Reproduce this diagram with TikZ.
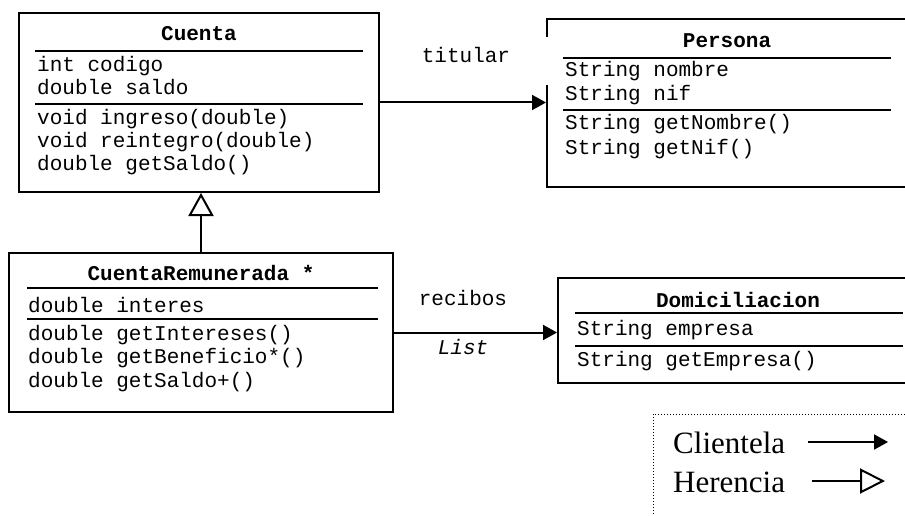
\documentclass[tikz,border=0pt]{standalone}
\usepackage{fontspec}
\setmainfont{Liberation Serif}
\setmonofont{Liberation Mono}
\usetikzlibrary{arrows.meta}
\begin{document}
\begin{tikzpicture}[x=1pt,y=-1pt,
  classbox/.style={draw,line width=2pt,rectangle,inner sep=0pt},
  sepline/.style={line width=2pt},
  mono/.style={font=\fontsize{21}{23}\selectfont\ttfamily,inner sep=0pt},
  monotxt/.style={mono,anchor=base west},
  title/.style={font=\fontsize{21}{23}\selectfont\ttfamily\bfseries,inner sep=0pt,anchor=base},
  rlabel/.style={mono,anchor=base},
  legtxt/.style={font=\fontsize{31}{33}\selectfont\rmfamily,inner sep=0pt,anchor=base west},
  client/.style={line width=2pt,-{Triangle[length=14pt,width=15pt]}},
  herit/.style={line width=2pt,-{Triangle[open,length=23pt,width=25pt,line width=2pt]}}
]
\useasboundingbox (0,0) rectangle (905,516);
% Cuenta
\node[classbox,minimum width=360pt,minimum height=179pt] (cuenta) at (199,102.5) {};
\node[title] (cuentaT) at (199,41) {Cuenta};
\draw[sepline] (35,51) -- (363,51);
\node[monotxt] (c1) at (37,72) {int codigo};
\node[monotxt] (c2) at (37,95) {double saldo};
\draw[sepline] (35,104) -- (363,104);
\node[monotxt] (c3) at (37,125) {void ingreso(double)};
\node[monotxt] (c4) at (37,148) {void reintegro(double)};
\node[monotxt] (c5) at (37,171) {double getSaldo()};
% Persona
\node[classbox,minimum width=360pt,minimum height=168pt] (persona) at (727,103) {};
\draw[white,line width=3pt] (547,37) -- (547,85);
\node[title] (personaT) at (727,48) {Persona};
\draw[sepline] (563,58) -- (891,58);
\node[monotxt] (p1) at (565,77) {String nombre};
\node[monotxt] (p2) at (565,101) {String nif};
\draw[sepline] (563,110) -- (891,110);
\node[monotxt] (p3) at (565,130) {String getNombre()};
\node[monotxt] (p4) at (565,154) {String getNif()};
% CuentaRemunerada
\node[classbox,minimum width=384pt,minimum height=159pt] (crem) at (201,332.5) {};
\node[title] (cremT) at (201,280) {CuentaRemunerada *};
\draw[sepline] (27,288) -- (378,288);
\node[monotxt] (r1) at (28,312) {double interes};
\draw[sepline] (27,319) -- (378,319);
\node[monotxt] (r2) at (28,340) {double getIntereses()};
\node[monotxt] (r3) at (28,363) {double getBeneficio*()};
\node[monotxt] (r4) at (28,387) {double getSaldo+()};
% Domiciliacion
\node[classbox,minimum width=352pt,minimum height=105pt] (dom) at (734,330.5) {};
\node[title] (domT) at (738,307) {Domiciliacion};
\draw[sepline] (575,313) -- (903,313);
\node[monotxt] (d1) at (577,335) {String empresa};
\draw[sepline] (575,346) -- (903,346);
\node[monotxt] (d2) at (577,366) {String getEmpresa()};
% connectors
\draw[client] (cuenta.east) -- (cuenta.east -| persona.west);
\node[rlabel] (titular) at (466,63) {titular};
\draw[client] (crem.east) -- (crem.east -| dom.west);
\node[rlabel] (recibos) at (463,305) {recibos};
\node[rlabel,font=\fontsize{21}{23}\selectfont\ttfamily\itshape] (list) at (463,354) {List};
\coordinate (inhStart) at (201,253);
\draw[herit] (inhStart) -- (inhStart |- cuenta.south);
% legend
\draw[dotted,line width=1pt] (653,520) -- (653,414) -- (910,414);
\node[legtxt] (lc) at (673,453) {Clientela};
\node[legtxt] (lh) at (673,492) {Herencia};
\coordinate (ca) at (808,442);
\coordinate (cb) at (888,442);
\draw[client] (ca) -- (cb);
\coordinate (ha) at (812,481);
\coordinate (hb) at (885,481);
\draw[line width=2pt,-{Triangle[open,length=25pt,width=25pt,line width=2pt]}] (ha) -- (hb);
\end{tikzpicture}
\end{document}
